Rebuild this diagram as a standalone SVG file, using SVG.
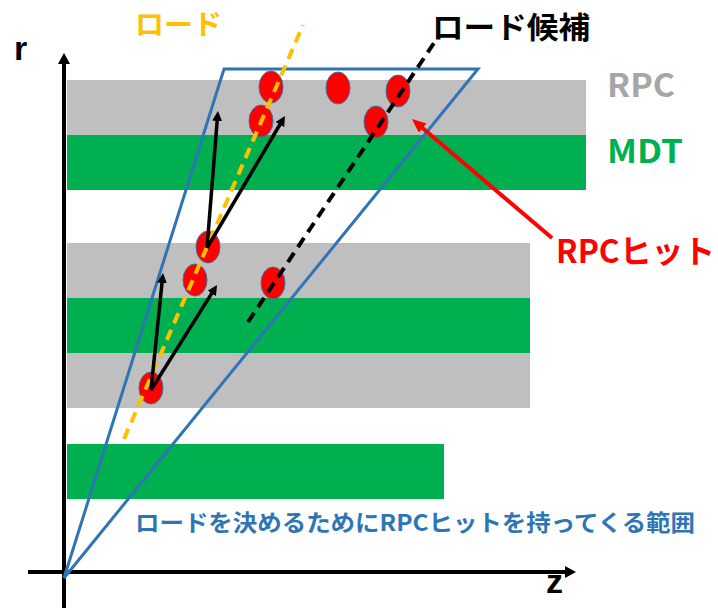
<svg xmlns="http://www.w3.org/2000/svg" width="718" height="608" viewBox="0 0 718 608">
<style>
.gray{fill:#BFBFBF}
.green{fill:#00B050}
.hit{fill:#FF0000;stroke:#41719C;stroke-width:1}
.jp{font-family:"Noto Sans CJK JP","Liberation Sans",sans-serif;font-weight:bold}
.lat{font-family:"Liberation Sans",Arial,sans-serif;font-weight:bold}
</style>
<defs>
<marker id="ah" viewBox="0 0 10 10" refX="3" refY="5" markerWidth="10" markerHeight="10" markerUnits="userSpaceOnUse" orient="auto"><path d="M0,0 L10,5 L0,10 z" fill="#000"/></marker>
<marker id="axh" viewBox="0 0 11 12" refX="3" refY="6" markerWidth="11" markerHeight="12" markerUnits="userSpaceOnUse" orient="auto"><path d="M0,0 L11,6 L0,12 z" fill="#000"/></marker>
<marker id="rh" viewBox="0 0 14 12" refX="4" refY="6" markerWidth="14" markerHeight="12" markerUnits="userSpaceOnUse" orient="auto"><path d="M0,0 L14,6 L0,12 z" fill="#FF0000"/></marker>
</defs>
<rect width="718" height="608" fill="#fff"/>
<g id="bands">
<rect class="gray" x="67" y="80" width="519" height="55"/>
<rect class="green" x="67" y="135" width="519" height="55"/>
<rect class="gray" x="67" y="243" width="463" height="55"/>
<rect class="green" x="67" y="298" width="463" height="55"/>
<rect class="gray" x="67" y="353" width="463" height="55"/>
<rect class="green" x="67" y="444" width="377" height="55"/>
</g>
<g id="axes" stroke="#000" stroke-width="4">
<line x1="64" y1="608" x2="64" y2="61" marker-end="url(#axh)"/>
<line x1="28" y1="572" x2="568" y2="572" marker-end="url(#axh)"/>
</g>
<g id="range">
<polygon points="64,578 224,69 478,69" fill="none" stroke="#2E75B6" stroke-width="3" stroke-linejoin="miter"/>
</g>
<g id="hits">
<ellipse class="hit" cx="271" cy="87" rx="12" ry="16"/>
<ellipse class="hit" cx="338" cy="88" rx="12" ry="16"/>
<ellipse class="hit" cx="261" cy="121" rx="12" ry="16"/>
<ellipse class="hit" cx="398" cy="91" rx="12" ry="16"/>
<ellipse class="hit" cx="376" cy="122" rx="12" ry="16"/>
<ellipse class="hit" cx="208" cy="247" rx="12" ry="16"/>
<ellipse class="hit" cx="195" cy="280" rx="12" ry="16"/>
<ellipse class="hit" cx="273" cy="283" rx="12" ry="16"/>
<ellipse class="hit" cx="151" cy="388" rx="12" ry="16"/>
</g>
<g id="connectors">
<line x1="124" y1="439" x2="303" y2="25" stroke="#FFC000" stroke-width="4" stroke-dasharray="11,7"/>
<line x1="248" y1="322" x2="434" y2="43" stroke="#000" stroke-width="4" stroke-dasharray="11,7"/>
<g stroke="#000" stroke-width="3.5" marker-end="url(#ah)">
<line x1="151" y1="390" x2="162.3" y2="280"/>
<line x1="151" y1="390" x2="213.3" y2="290.9"/>
<line x1="207" y1="248" x2="217.4" y2="118"/>
<line x1="207" y1="248" x2="281.4" y2="122"/>
</g>
<line x1="552" y1="238" x2="419.6" y2="125.5" stroke="#FF0000" stroke-width="4" marker-end="url(#rh)"/>
</g>
<g id="labels">
<text class="lat" x="14" y="60" font-size="34">r</text>
<text class="lat" x="546" y="593" font-size="34">z</text>
<text class="jp" x="135" y="35" font-size="28" fill="#FFC000" textLength="87" lengthAdjust="spacingAndGlyphs">ロード</text>
<text class="jp" x="432" y="38" font-size="30" fill="#000" textLength="158" lengthAdjust="spacingAndGlyphs">ロード候補</text>
<text class="jp" x="607" y="97" font-size="32" fill="#A6A6A6" textLength="68" lengthAdjust="spacingAndGlyphs">RPC</text>
<text class="jp" x="607" y="163" font-size="32" fill="#00B050" textLength="76" lengthAdjust="spacingAndGlyphs">MDT</text>
<text class="jp" x="556" y="263" font-size="32" fill="#FF0000" textLength="159" lengthAdjust="spacingAndGlyphs">RPCヒット</text>
<text class="jp" x="135" y="531" font-size="23" fill="#2E75B6" textLength="560" lengthAdjust="spacingAndGlyphs">ロードを決めるためにRPCヒットを持ってくる範囲</text>
</g>
</svg>
